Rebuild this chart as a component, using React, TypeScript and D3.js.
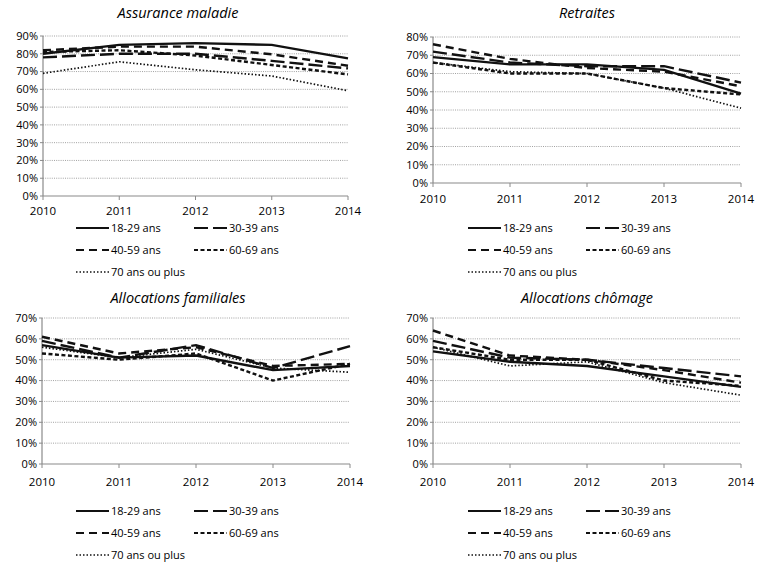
import * as d3 from "d3";

// years on the x axis
const years = [2010, 2011, 2012, 2013, 2014];

// age groups, in legend order
const groups = ["18-29 ans", "30-39 ans", "40-59 ans", "60-69 ans", "70 ans ou plus"];

// share of respondents (%) per age group, one array per benefit
const assuranceMaladie = [
  [80, 85, 86, 85, 77.4],
  [78, 80, 80, 76, 71.8],
  [82, 84, 84, 79.7, 73.3],
  [81, 82, 79, 73.7, 68.4],
  [69, 75.5, 71, 67.5, 59.2],
];
const retraites = [
  [69, 65, 65, 62, 49],
  [72, 66, 64, 64, 55],
  [76, 68, 63, 61, 53],
  [66, 60, 60, 52, 48.5],
  [66, 61, 60, 52, 41],
];
const allocFamiliales = [
  [57, 51, 52, 45, 47],
  [59, 51, 57, 46, 56.5],
  [61, 53, 56, 47, 48],
  [53, 50, 53, 40, 48],
  [56, 51, 55, 46, 44],
];
const allocChomage = [
  [54, 49, 47, 42, 37],
  [59, 51, 50, 46, 42],
  [64, 52, 50, 45, 39],
  [56, 50, 50, 40, 37.5],
  [56, 47, 49, 39, 33],
];

const dashes = ["none", "14,5", "8,5", "4,2.5", "1.5,2"];
const font = "'Open Sans', Lato, sans-serif";

type PanelProps = {
  title: string;
  data: number[][];
  yMax: number;
  left: number;
  right: number;
  top: number;
  bottom: number;
  yearY: number;
  legendX: number;
  legendY: number[];
  titleX: number;
  titleY: number;
};

function Panel(p: PanelProps) {
  const x = d3.scaleLinear().domain([2010, 2014]).range([p.left, p.right]);
  const y = d3.scaleLinear().domain([0, p.yMax]).range([p.bottom, p.top]);
  const ticks = d3.range(0, p.yMax + 1, 10);
  const line = d3
    .line<number>()
    .x((_, i) => x(years[i]))
    .y((v) => y(v));

  return (
    <g>
      <text
        x={p.titleX}
        y={p.titleY}
        textAnchor="middle"
        fontStyle="italic"
        fontSize={14.5}
        fill="#000"
      >
        {p.title}
      </text>
      {ticks.map((t) => (
        <g key={t}>
          {t > 0 && (
            <line
              x1={p.left}
              x2={p.right}
              y1={y(t)}
              y2={y(t)}
              stroke="#8a8a8a"
              strokeWidth={0.8}
              strokeDasharray="1,1.2"
            />
          )}
          <line x1={p.left - 3} x2={p.left} y1={y(t)} y2={y(t)} stroke="#8a8a8a" />
          <text
            x={p.left - 5}
            y={y(t)}
            dy="0.35em"
            textAnchor="end"
            fontSize={11}
            fill="#000"
          >
            {t}%
          </text>
        </g>
      ))}
      <line x1={p.left} x2={p.left} y1={p.top} y2={p.bottom} stroke="#8a8a8a" strokeWidth={1.2} />
      <line x1={p.left} x2={p.right} y1={p.bottom} y2={p.bottom} stroke="#8a8a8a" strokeWidth={1.2} />
      {years.map((yr) => (
        <g key={yr}>
          <line x1={x(yr)} x2={x(yr)} y1={p.bottom} y2={p.bottom + 4} stroke="#8a8a8a" />
          <text x={x(yr)} y={p.yearY} dy="0.35em" textAnchor="middle" fontSize={11.5} fill="#000">
            {yr}
          </text>
        </g>
      ))}
      {p.data.map((s, i) => (
        <path
          key={i}
          d={line(s) ?? ""}
          fill="none"
          stroke="#111"
          strokeWidth={i === 4 ? 1.7 : 2.4}
          strokeDasharray={dashes[i]}
        />
      ))}
      {groups.map((g, i) => {
        const lx = p.legendX + (i % 2) * 118;
        const ly = p.legendY[Math.floor(i / 2)];
        return (
          <g key={g}>
            <line
              x1={lx}
              x2={lx + 33}
              y1={ly}
              y2={ly}
              stroke="#111"
              strokeWidth={i === 4 ? 1.5 : 2.2}
              strokeDasharray={dashes[i]}
            />
            <text x={lx + 35} y={ly} dy="0.35em" fontSize={11} fill="#000">
              {g}
            </text>
          </g>
        );
      })}
    </g>
  );
}

export default function App() {
  return (
    <svg
      width={761}
      height={568}
      style={{ position: "absolute", left: 0, top: 0, background: "#fff", fontFamily: font }}
    >
      <rect width={761} height={568} fill="#fff" />
      <Panel
        title="Assurance maladie"
        data={assuranceMaladie}
        yMax={90}
        left={43}
        right={348}
        top={36}
        bottom={196}
        yearY={211}
        legendX={76}
        legendY={[228, 250, 272]}
        titleX={178}
        titleY={18}
      />
      <Panel
        title="Retraites"
        data={retraites}
        yMax={80}
        left={433}
        right={741}
        top={37}
        bottom={183}
        yearY={199}
        legendX={468}
        legendY={[228, 250, 272]}
        titleX={587}
        titleY={18}
      />
      <Panel
        title="Allocations familiales"
        data={allocFamiliales}
        yMax={70}
        left={42}
        right={350}
        top={318}
        bottom={464}
        yearY={482}
        legendX={76}
        legendY={[511, 533, 555]}
        titleX={178}
        titleY={303}
      />
      <Panel
        title="Allocations chômage"
        data={allocChomage}
        yMax={70}
        left={433}
        right={741}
        top={318}
        bottom={464}
        yearY={482}
        legendX={468}
        legendY={[511, 533, 555]}
        titleX={587}
        titleY={303}
      />
    </svg>
  );
}
